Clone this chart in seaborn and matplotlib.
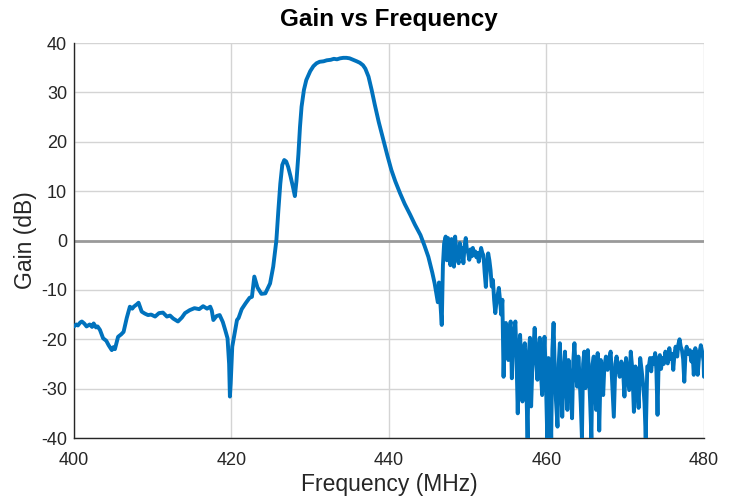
import matplotlib
matplotlib.use("Agg")
import matplotlib.pyplot as plt
import seaborn as sns
import pandas as pd

# ---- data (frequency in MHz, gain in dB) ----
# 400-421 MHz: low-level region with the notch near 420 MHz
freq_low = [400.0, 400.3, 400.5, 400.8, 401.0, 401.3, 401.6, 402.0, 402.3, 402.5,
            402.8, 403.0, 403.3, 403.7, 404.1, 404.4, 404.8, 405.0, 405.2, 405.6,
            406.0, 406.3, 406.7, 407.1, 407.4, 407.6, 408.0, 408.2, 408.6, 409.0,
            409.4, 409.8, 410.3, 410.8, 411.3, 411.8, 412.2, 412.6, 413.2, 413.7,
            414.1, 414.7, 415.3, 415.9, 416.4, 416.9, 417.3, 417.5, 417.7, 418.1,
            418.5, 418.9, 419.2, 419.5, 419.7, 419.8, 419.9, 420.1, 420.4, 420.7,
            420.9]
gain_low = [-17.4, -17.0, -17.2, -16.6, -16.4, -16.8, -17.4, -17.0, -17.5, -16.8,
            -17.6, -17.4, -18.1, -19.8, -20.3, -21.2, -22.2, -21.6, -22.0, -19.5,
            -19.0, -18.5, -15.7, -13.4, -13.8, -13.4, -12.9, -12.6, -14.4, -14.8,
            -15.1, -15.0, -15.4, -14.7, -14.6, -15.4, -15.2, -15.8, -16.4, -15.6,
            -14.7, -14.1, -13.7, -13.9, -13.3, -13.8, -13.4, -14.2, -16.1, -15.3,
            -15.1, -16.5, -18.1, -19.8, -25.0, -31.6, -29.0, -21.5, -18.8, -16.1,
            -15.7]

# 421-447 MHz: passband
freq_pass = [421.3, 421.8, 422.3, 422.6, 422.9, 423.3, 423.8, 424.3, 424.9, 425.3,
             425.7, 425.95, 426.2, 426.45, 426.7, 426.95, 427.2, 427.5, 427.8, 428.05,
             428.25, 428.5, 428.7, 428.9, 429.2, 429.5, 430.0, 430.4, 430.8, 431.2,
             431.7, 432.1, 432.6, 433.0, 433.4, 433.8, 434.2, 434.6, 435.0, 435.3,
             435.6, 435.9, 436.3, 436.7, 437.0, 437.4, 437.8, 438.2, 438.7, 439.3,
             439.8, 440.3, 440.8, 441.4, 442.0, 442.7, 443.3, 444.0, 444.5, 445.0,
             445.5, 445.8, 446.2, 446.35, 446.5, 446.7, 446.85, 447.0]
gain_pass = [-13.9, -12.7, -11.6, -11.4, -7.3, -9.5, -10.8, -10.7, -8.7, -5.3,
             0.0, 6.0, 11.5, 15.3, 16.3, 16.0, 14.9, 13.0, 10.9, 9.0,
             12.0, 17.5, 23.0, 27.1, 30.5, 32.5, 34.3, 35.3, 35.9, 36.2,
             36.3, 36.5, 36.6, 36.8, 36.7, 36.9, 37.0, 37.0, 36.9, 36.7,
             36.5, 36.3, 36.0, 35.5, 34.8, 33.2, 30.5, 27.5, 24.0, 20.3,
             17.2, 14.3, 12.0, 9.6, 7.4, 5.2, 3.2, 1.1, -1.0, -3.3,
             -6.5, -8.7, -12.5, -8.5, -12.0, -17.1, -5.0, -0.6]

# 447-454 MHz: noisy shelf near 0 dB
freq_shelf = [447.2, 447.35, 447.5, 447.65, 447.8, 447.95, 448.1, 448.25, 448.4, 448.55,
              448.7, 448.85, 449.0, 449.15, 449.3, 449.45, 449.6, 449.75, 449.9, 450.05,
              450.2, 450.35, 450.5, 450.65, 450.8, 450.95, 451.1, 451.25, 451.4, 451.55,
              451.7, 451.85, 452.0, 452.15, 452.3, 452.45, 452.6, 452.75, 452.9, 453.05,
              453.2, 453.35, 453.5, 453.65, 453.8, 453.95, 454.1, 454.25]
gain_shelf = [0.8, -4.0, 0.5, -3.0, -5.0, 0.3, -2.0, -5.3, 0.8, -2.5,
              -3.5, -4.6, -0.5, -3.2, -1.5, -4.6, -1.0, 0.5, -2.0, -2.5,
              -3.9, -1.8, -3.2, -1.5, -3.0, -2.2, -3.4, -2.5, -4.3, -3.0,
              -1.5, -2.5, -3.0, -6.5, -9.4, -5.0, -2.6, -4.0, -6.0, -9.3,
              -8.0, -12.0, -14.7, -12.5, -11.0, -9.6, -12.0, -15.0]

# 454-467 MHz: noise floor, first part
freq_noise1 = [454.40, 454.55, 454.70, 454.85, 455.00, 455.15, 455.30, 455.45, 455.60, 455.75,
               455.90, 456.05, 456.20, 456.35, 456.50, 456.65, 456.80, 456.95, 457.10, 457.25,
               457.40, 457.60, 457.75, 457.90, 458.05, 458.20, 458.35, 458.50, 458.70, 458.85,
               459.00, 459.15, 459.30, 459.45, 459.60, 459.75, 459.90, 460.10, 460.25, 460.40,
               460.60, 460.75, 460.90, 461.05, 461.20, 461.40, 461.55, 461.70, 461.85, 462.00,
               462.20, 462.35, 462.50, 462.65, 462.80, 462.95, 463.10, 463.25, 463.40, 463.55,
               463.70, 463.90, 464.05, 464.20, 464.35, 464.50, 464.65, 464.80, 464.95, 465.10,
               465.25, 465.40, 465.55, 465.70, 465.85, 466.00, 466.15, 466.30, 466.50, 466.70]
gain_noise1 = [-12.0, -27.6, -18.0, -16.7, -21.5, -24.2, -18.0, -16.4, -27.9, -21.0,
               -18.5, -16.4, -24.0, -35.0, -22.5, -19.1, -25.0, -32.6, -22.0, -20.8,
               -27.0, -40.0, -23.0, -19.7, -33.6, -26.0, -21.5, -17.7, -24.5, -28.2,
               -22.0, -19.7, -27.0, -31.3, -24.0, -19.5, -26.5, -40.0, -23.8, -28.0,
               -40.0, -22.0, -16.7, -26.0, -32.3, -37.7, -25.0, -20.8, -28.0, -35.7,
               -26.5, -22.5, -29.0, -34.3, -24.2, -27.5, -30.3, -36.0, -24.5, -20.8,
               -26.0, -29.6, -23.5, -27.5, -33.0, -40.0, -25.0, -22.5, -29.9, -26.0,
               -22.2, -27.0, -33.0, -40.0, -25.0, -23.5, -29.0, -34.3, -22.8, -38.5]

# 467-480 MHz: noise floor, second part
freq_noise2 = [466.90, 467.05, 467.20, 467.35, 467.55, 467.75, 467.95, 468.15, 468.35, 468.55,
               468.75, 468.90, 469.10, 469.30, 469.50, 469.70, 469.90, 470.10, 470.30, 470.50,
               470.70, 470.90, 471.10, 471.30, 471.50, 471.70, 471.90, 472.10, 472.30, 472.45,
               472.60, 472.80, 473.00, 473.15, 473.30, 473.45, 473.60, 473.80, 473.95, 474.10,
               474.25, 474.40, 474.55, 474.70, 474.90, 475.10, 475.25, 475.40, 475.60, 475.80,
               475.95, 476.10, 476.25, 476.40, 476.60, 476.75, 476.90, 477.05, 477.20, 477.35,
               477.50, 477.65, 477.80, 478.00, 478.20, 478.40, 478.55, 478.70, 478.90, 479.05,
               479.20, 479.40, 479.60, 479.80, 479.95, 480.00]
gain_noise2 = [-24.2, -28.0, -31.3, -25.5, -23.5, -26.2, -24.0, -22.5, -29.0, -35.7,
               -25.0, -23.5, -26.0, -27.6, -24.5, -25.5, -31.6, -23.8, -27.0, -30.3,
               -22.5, -26.0, -34.7, -25.5, -28.0, -33.9, -23.8, -26.5, -29.6, -33.0,
               -40.0, -25.5, -25.5, -23.8, -26.5, -23.8, -25.0, -22.8, -26.0, -35.3,
               -24.0, -23.2, -26.0, -23.8, -25.0, -22.5, -24.0, -24.9, -21.8, -24.0,
               -23.0, -26.2, -23.0, -21.5, -23.5, -21.0, -20.0, -21.5, -22.2, -24.0,
               -28.6, -23.0, -21.5, -23.0, -22.2, -24.5, -22.5, -27.2, -21.8, -23.0,
               -27.2, -23.0, -21.2, -22.8, -24.5, -27.6]

x_ticks = [400, 420, 440, 460, 480]
y_ticks = [-40, -30, -20, -10, 0, 10, 20, 30, 40]
title = "Gain vs Frequency"
x_label = "Frequency (MHz)"
y_label = "Gain (dB)"

df = pd.DataFrame({
    "freq": freq_low + freq_pass + freq_shelf + freq_noise1 + freq_noise2,
    "gain": gain_low + gain_pass + gain_shelf + gain_noise1 + gain_noise2,
})

sns.set_style("white")
plt.rcParams["font.family"] = ["Liberation Sans", "DejaVu Sans"]
plt.rcParams["axes.unicode_minus"] = False

fig = plt.figure(figsize=(7.36, 4.99), dpi=100)
ax = fig.add_axes([0.1005, 0.1222, 0.856, 0.7916])

ax.axhline(0, color="#9a9a9a", linewidth=2.0, zorder=1)
sns.lineplot(data=df, x="freq", y="gain", ax=ax, color="#0072BD", linewidth=2.8,
             sort=False, estimator=None, zorder=3)

ax.set_xlim(400, 480)
ax.set_ylim(-40, 40)
ax.set_xticks(x_ticks)
ax.set_yticks(y_ticks)
ax.grid(True, color="#d4d4d4", linewidth=1.0, zorder=0)
ax.set_axisbelow(True)
for s in ["top", "right"]:
    ax.spines[s].set_visible(False)
for s in ["left", "bottom"]:
    ax.spines[s].set_color("#262626")
    ax.spines[s].set_linewidth(1.0)
ax.tick_params(direction="in", length=5, width=0.8, colors="#262626",
               labelsize=13)
ax.tick_params(axis="x", pad=10)
ax.tick_params(axis="y", pad=5)
ax.set_xlabel(x_label, fontsize=16.5, color="#262626", labelpad=3)
ax.set_ylabel(y_label, fontsize=16.5, color="#262626", labelpad=3)
ax.set_title(title, fontsize=17.5, fontweight="bold", color="black", pad=12)

fig.savefig("out.png", dpi=100)
